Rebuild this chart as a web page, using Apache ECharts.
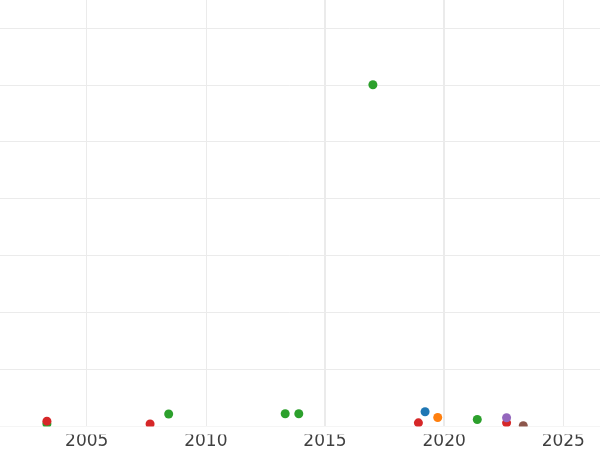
<!DOCTYPE html>
<html><head><meta charset="utf-8">
<script src="https://cdn.jsdelivr.net/npm/echarts@6/dist/echarts.min.js"></script>
<style>html,body{margin:0;padding:0;background:#fff;overflow:hidden;width:600px;height:450px;position:relative}#c{position:absolute;left:-40px;top:-40px;width:680px;height:490px}</style>
</head><body><div id="c"></div>
<script>
const xTicks = [2005, 2010, 2015, 2020, 2025];
const greenPts = [[2003.33, 0.4], [2008.44, 2.1], [2013.33, 2.15], [2013.9, 2.15], [2017.01, 60], [2021.39, 1.15]];
const redPts = [[2003.33, 0.85], [2007.66, 0.35], [2018.92, 0.55], [2022.62, 0.55]];
const purplePts = [[2022.62, 1.45]];
const bluePts = [[2019.2, 2.5]];
const orangePts = [[2019.73, 1.5]];
const brownPts = [[2023.32, 0.05]];
const emphasisLines = [2015, 2020];

const mk = (data, color) => ({type: 'scatter', data, symbolSize: 9, itemStyle: {color, opacity: 1}, clip: true, silent: true});
const chart = echarts.init(document.getElementById('c'), null, {renderer: 'canvas'});
const greenS = mk(greenPts, '#2ca02c');
greenS.markLine = {silent: true, symbol: ['none', 'none'], label: {show: false},
  lineStyle: {color: '#ebebeb', width: 2, type: 'solid'}, animation: false,
  data: emphasisLines.map(v => ({xAxis: v}))};
chart.setOption({
  animation: false,
  backgroundColor: '#ffffff',
  grid: {left: 7.55, right: 29.04, top: 11, bottom: 23, containLabel: false},
  xAxis: {type: 'value', min: 2000, max: 2027, interval: 5,
    axisLine: {show: false}, axisTick: {show: false},
    axisLabel: {fontSize: 17, color: '#404040', fontFamily: 'DejaVu Sans', margin: 7,
      formatter: v => xTicks.includes(v) ? String(v) : ''},
    splitLine: {show: true, lineStyle: {color: '#ebebeb', width: 1}}
  },
  yAxis: {type: 'value', min: 0, max: 80, interval: 10,
    axisLine: {show: false}, axisTick: {show: false}, axisLabel: {show: false},
    splitLine: {show: true, lineStyle: {color: '#ebebeb', width: 1}}
  },
  graphic: [{type: 'rect', left: 0, top: 466.5, z: 100, silent: true,
    shape: {width: 680, height: 8}, style: {fill: '#ffffff'}}],
  series: [greenS, mk(redPts, '#d62728'), mk(purplePts, '#9467bd'), mk(bluePts, '#1f77b4'), mk(orangePts, '#ff7f0e'), mk(brownPts, '#8c564b')]
});
</script></body></html>
